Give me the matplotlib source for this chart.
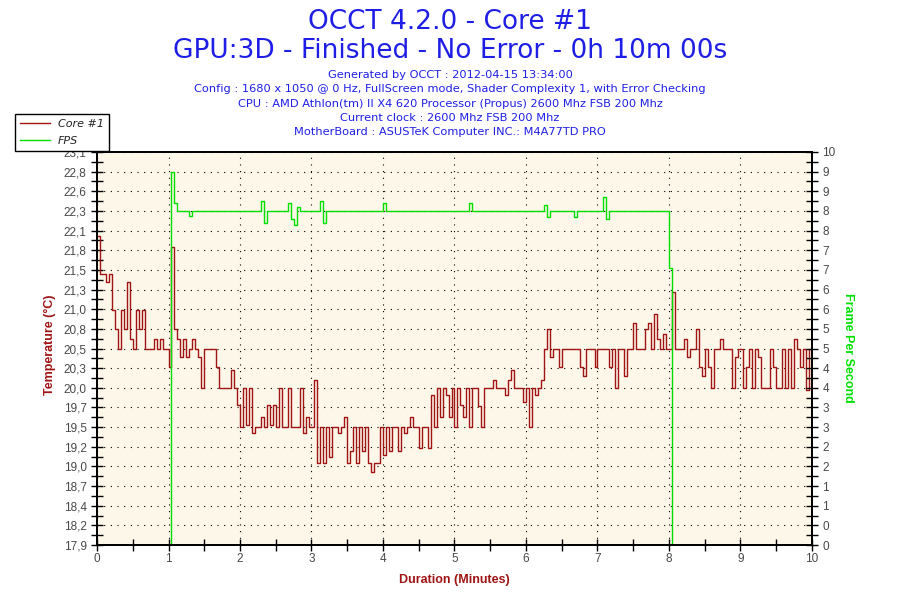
import matplotlib
matplotlib.use('Agg')
import matplotlib.pyplot as plt
import numpy as np

# one reading every 2.5 s over the 10 minute run
core_temp = [
    22.0, 21.5, 21.5, 21.39, 21.5, 21.02, 20.77, 20.5, 21.02, 20.77,
    21.39, 20.64, 20.5, 21.02, 20.77, 21.02, 20.5, 20.5, 20.5, 20.64,
    20.5, 20.64, 20.5, 20.5, 20.27, 21.85, 20.77, 20.64, 20.4, 20.64,
    20.4, 20.5, 20.64, 20.5, 20.4, 19.99, 20.5, 20.5, 20.5, 20.5,
    20.27, 19.99, 19.99, 19.99, 19.99, 20.23, 19.99, 19.76, 19.47, 19.99,
    19.5, 19.99, 19.39, 19.47, 19.47, 19.6, 19.47, 19.76, 19.5, 19.76,
    19.47, 19.99, 19.47, 19.47, 19.99, 19.47, 19.47, 19.47, 19.99, 19.39,
    19.6, 19.47, 19.47, 20.1, 19.0, 19.47, 19.0, 19.47, 19.08, 19.47,
    19.47, 19.4, 19.47, 19.6, 19.0, 19.15, 19.47, 19.0, 19.47, 19.15,
    19.47, 19.0, 18.88, 19.0, 19.0, 19.47, 19.1, 19.47, 19.15, 19.47,
    19.47, 19.15, 19.47, 19.4, 19.47, 19.6, 19.47, 19.47, 19.2, 19.47,
    19.47, 19.2, 19.9, 19.47, 19.99, 19.6, 19.99, 19.9, 19.6, 19.99,
    19.47, 19.99, 19.76, 19.6, 19.99, 19.47, 19.99, 19.99, 19.75, 19.47,
    19.99, 19.99, 19.99, 20.1, 19.99, 19.99, 19.99, 19.9, 20.1, 20.23,
    19.99, 19.99, 19.99, 19.8, 19.99, 19.47, 19.99, 19.9, 19.99, 20.1,
    20.5, 20.77, 20.4, 20.5, 20.5, 20.27, 20.5, 20.5, 20.5, 20.5,
    20.5, 20.5, 20.27, 20.15, 20.5, 20.5, 20.5, 20.27, 20.5, 20.5,
    20.5, 20.5, 20.27, 20.5, 19.99, 20.5, 20.5, 20.15, 20.5, 20.5,
    20.85, 20.5, 20.5, 20.5, 20.77, 20.85, 20.5, 20.97, 20.64, 20.5,
    20.7, 20.5, 20.5, 21.26, 20.5, 20.5, 20.5, 20.64, 20.4, 20.5,
    20.5, 20.77, 20.27, 20.15, 20.5, 20.27, 19.99, 20.5, 20.5, 20.64,
    20.5, 20.5, 20.5, 19.99, 20.4, 20.5, 20.5, 19.99, 20.27, 20.5,
    19.99, 20.5, 20.4, 19.99, 19.99, 19.99, 20.5, 20.27, 19.99, 19.99,
    20.5, 19.99, 20.5, 19.99, 20.64, 20.5, 20.27, 20.5, 19.96, 20.5,
    20.15,
]

fps = [
    0, 0, 0, 0, 0, 0, 0, 0, 0, 0,
    0, 0, 0, 0, 0, 0, 0, 0, 0, 0,
    0, 0, 0, 0, 0, 9.5, 8.7, 8.5, 8.5, 8.5,
    8.5, 8.37, 8.5, 8.5, 8.5, 8.5, 8.5, 8.5, 8.5, 8.5,
    8.5, 8.5, 8.5, 8.5, 8.5, 8.5, 8.5, 8.5, 8.5, 8.5,
    8.5, 8.5, 8.5, 8.5, 8.5, 8.75, 8.2, 8.5, 8.5, 8.5,
    8.5, 8.5, 8.5, 8.5, 8.7, 8.3, 8.15, 8.6, 8.5, 8.5,
    8.5, 8.5, 8.5, 8.5, 8.5, 8.75, 8.2, 8.5, 8.5, 8.5,
    8.5, 8.5, 8.5, 8.5, 8.5, 8.5, 8.5, 8.5, 8.5, 8.5,
    8.5, 8.5, 8.5, 8.5, 8.5, 8.5, 8.7, 8.5, 8.5, 8.5,
    8.5, 8.5, 8.5, 8.5, 8.5, 8.5, 8.5, 8.5, 8.5, 8.5,
    8.5, 8.5, 8.5, 8.5, 8.5, 8.5, 8.5, 8.5, 8.5, 8.5,
    8.5, 8.5, 8.5, 8.5, 8.5, 8.7, 8.5, 8.5, 8.5, 8.5,
    8.5, 8.5, 8.5, 8.5, 8.5, 8.5, 8.5, 8.5, 8.5, 8.5,
    8.5, 8.5, 8.5, 8.5, 8.5, 8.5, 8.5, 8.5, 8.5, 8.5,
    8.65, 8.35, 8.5, 8.5, 8.5, 8.5, 8.5, 8.5, 8.5, 8.5,
    8.35, 8.5, 8.5, 8.5, 8.5, 8.5, 8.5, 8.5, 8.5, 8.5,
    8.85, 8.3, 8.5, 8.5, 8.5, 8.5, 8.5, 8.5, 8.5, 8.5,
    8.5, 8.5, 8.5, 8.5, 8.5, 8.5, 8.5, 8.5, 8.5, 8.5,
    8.5, 8.5, 7.05, 0, 0, 0, 0, 0, 0, 0,
    0, 0, 0, 0, 0, 0, 0, 0, 0, 0,
    0, 0, 0, 0, 0, 0, 0, 0, 0, 0,
    0, 0, 0, 0, 0, 0, 0, 0, 0, 0,
    0, 0, 0, 0, 0, 0, 0, 0, 0, 0,
    0,
]

temp_labels = ['17,9', '18,2', '18,4', '18,7', '19,0', '19,2', '19,5', '19,7', '20,0', '20,3', '20,5',
               '20,8', '21,0', '21,3', '21,5', '21,8', '22,1', '22,3', '22,6', '22,8', '23,1']
fps_labels = ['0', '0', '1', '1', '2', '2', '3', '3', '4', '4', '5',
              '5', '6', '6', '7', '7', '8', '8', '9', '9', '10']
minute_labels = ['0', '1', '2', '3', '4', '5', '6', '7', '8', '9', '10']

title_lines = ['OCCT 4.2.0 - Core #1', 'GPU:3D - Finished - No Error - 0h 10m 00s']
info_lines = [
    'Generated by OCCT : 2012-04-15 13:34:00',
    'Config : 1680 x 1050 @ 0 Hz, FullScreen mode, Shader Complexity 1, with Error Checking',
    'CPU : AMD Athlon(tm) II X4 620 Processor (Propus) 2600 Mhz FSB 200 Mhz',
    'Current clock : 2600 Mhz FSB 200 Mhz',
    'MotherBoard : ASUSTeK Computer INC.: M4A77TD PRO',
]

red = '#a01414'
green = '#00e000'
blue = '#1e1ee6'
tick_grey = '#484848'

t = np.arange(len(core_temp)) * 2.5 / 60

fig = plt.figure(figsize=(9, 6), dpi=100)
ax = fig.add_axes([97 / 900, 55 / 600, 715 / 900, 393 / 600])
ax.set_facecolor('#fdf7e9')
ax2 = ax.twinx()

l1, = ax.plot(t, core_temp, color=red, lw=1.0, drawstyle='steps-post')
l2, = ax2.plot(t, fps, color=green, lw=1.0, drawstyle='steps-post')

ymin, ymax = 17.915, 23.105
ax.set_xlim(0, 10)
ax.set_ylim(ymin, ymax)
ax2.set_ylim(0, 10)

ax.set_xticks(range(11))
ax.set_xticklabels(minute_labels)
ax.set_xticks(np.arange(0.5, 10, 1), minor=True)
ticks = np.linspace(ymin, ymax, 21)
ax.set_yticks(ticks)
ax.set_yticklabels(temp_labels)
ax.set_yticks((ticks[:-1] + ticks[1:]) / 2, minor=True)
ax2.set_yticks(np.arange(0, 10.01, 0.5))
ax2.set_yticklabels(fps_labels)
ax2.set_yticks(np.arange(0.25, 10, 0.5), minor=True)

for a in (ax, ax2):
    a.tick_params(which='both', direction='inout', length=8, width=1, color='black',
                  labelcolor=tick_grey, labelsize=8.5)
    for lab in a.get_xticklabels() + a.get_yticklabels():
        lab.set_family('Liberation Sans')
    for s in a.spines.values():
        s.set_color('black')
        s.set_linewidth(1.3)
ax.tick_params(axis='x', which='both', length=8, pad=2)

ax.grid(True, which='major', color='black', lw=0.8, ls=(0, (1, 5)))
ax.set_axisbelow(True)

for i, line in enumerate(title_lines):
    fig.text(0.5, 1 - (22 + 29 * i) / 600, line, ha='center', va='center', color=blue, fontsize=19)
for i, line in enumerate(info_lines):
    fig.text(0.5, 1 - (75 + 14.3 * i) / 600, line, ha='center', va='center', color=blue, fontsize=8.2)

fig.text(454 / 900, 1 - 580 / 600, 'Duration (Minutes)', ha='center', va='center',
         color=red, fontsize=9, fontweight='bold', family='Liberation Sans')
fig.text(50 / 900, 1 - 345 / 600, 'Temperature (°C)', ha='center', va='center', rotation=90,
         color=red, fontsize=9, fontweight='bold', family='Liberation Sans')
fig.text(848 / 900, 1 - 348 / 600, 'Frame Per Second', ha='center', va='center', rotation=270,
         color=green, fontsize=9, fontweight='bold', family='Liberation Sans')

leg = fig.legend([l1, l2], ['Core #1', 'FPS'], loc='upper left', bbox_to_anchor=(15 / 900, 1 - 114 / 600),
                 frameon=True, fancybox=False, edgecolor='black', framealpha=1, borderaxespad=0,
                 handlelength=2.7, handletextpad=0.7, borderpad=0.45, labelspacing=0.65,
                 prop={'style': 'italic', 'size': 8})
leg.get_frame().set_linewidth(1)
for txt in leg.get_texts():
    txt.set_color('#222222')

plt.savefig('out.png', dpi=100)
